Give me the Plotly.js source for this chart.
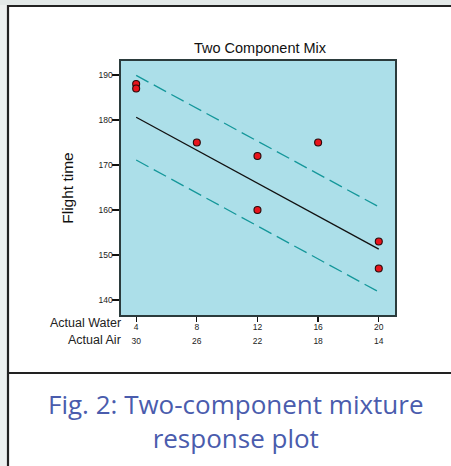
<!DOCTYPE html>
<html>
<head>
<meta charset="utf-8">
<script src="https://cdn.plot.ly/plotly-3.0.1.min.js"></script>
<style>
html,body{margin:0;padding:0;background:#ffffff;}
#chart{width:451px;height:466px;}
</style>
</head>
<body>
<div id="chart"></div>
<script>
// ---- data ----
var waterTicks = [4, 8, 12, 16, 20];
var airTicks = [30, 26, 22, 18, 14];
var yTicks = [140, 150, 160, 170, 180, 190];

var obsWater = [4, 4, 8, 12, 12, 16, 20, 20];
var obsFlight = [188, 187, 175, 172, 160, 175, 153, 147];

var lineWater = [4, 20];
var fitFlight = [180.6, 151.3];
var upperFlight = [189.9, 160.7];
var lowerFlight = [171.1, 141.8];

var chartTitle = "Two Component Mix";
var yTitle = "Flight time";
var rowLabels = ["Actual Water", "Actual Air"];
var caption = "Fig. 2: Two-component mixture<br>response plot";

// ---- layout geometry (pixels) ----
var W = 451, H = 466;
var PL = 121, PR = 395, PT = 61, PB = 315;
function px2x(p){ return (p - PL) / (PR - PL); }
function px2y(p){ return (PB - p) / (PB - PT); }

var teal = '#14979a';
var dark = '#222222';

var traces = [
  {x: lineWater, y: upperFlight, mode: 'lines', line: {color: teal, width: 1.3, dash: '14px,6px'}, hoverinfo: 'skip', showlegend: false},
  {x: lineWater, y: lowerFlight, mode: 'lines', line: {color: teal, width: 1.3, dash: '14px,6px'}, hoverinfo: 'skip', showlegend: false},
  {x: lineWater, y: fitFlight, mode: 'lines', line: {color: '#111111', width: 1.3}, hoverinfo: 'skip', showlegend: false},
  {x: obsWater, y: obsFlight, mode: 'markers', marker: {color: '#e8141c', size: 7, line: {color: '#2a0a0a', width: 1.1}}, showlegend: false},
  {x: waterTicks, y: waterTicks.map(function(){return null;}), xaxis: 'x2', mode: 'markers', hoverinfo: 'skip', showlegend: false}
];

var shapes = [
  // outer grey surround
  {type: 'rect', xref: 'paper', yref: 'paper', x0: px2x(0), x1: px2x(7), y0: px2y(0), y1: px2y(H), fillcolor: '#edf1f0', line: {width: 0}, layer: 'below'},
  {type: 'rect', xref: 'paper', yref: 'paper', x0: px2x(0), x1: px2x(W), y0: px2y(0), y1: px2y(5), fillcolor: '#e3e9e8', line: {width: 0}, layer: 'below'},
  // frame lines
  {type: 'line', xref: 'paper', yref: 'paper', x0: px2x(7), x1: px2x(W + 10), y0: px2y(6), y1: px2y(6), line: {color: dark, width: 2.2}},
  {type: 'line', xref: 'paper', yref: 'paper', x0: px2x(8), x1: px2x(8), y0: px2y(5), y1: px2y(H + 10), line: {color: dark, width: 2.2}},
  {type: 'line', xref: 'paper', yref: 'paper', x0: px2x(7), x1: px2x(W + 10), y0: px2y(373), y1: px2y(373), line: {color: dark, width: 2.2}}
];

var annotations = [
  {text: rowLabels[0], xref: 'paper', yref: 'paper', x: px2x(123), y: px2y(323), xanchor: 'right', yanchor: 'middle', showarrow: false, font: {family: 'Liberation Sans, Arial, sans-serif', size: 12.5, color: dark}},
  {text: rowLabels[1], xref: 'paper', yref: 'paper', x: px2x(123), y: px2y(340), xanchor: 'right', yanchor: 'middle', showarrow: false, font: {family: 'Liberation Sans, Arial, sans-serif', size: 12.5, color: dark}},
  {text: caption, xref: 'paper', yref: 'paper', x: px2x(236), y: px2y(421), xanchor: 'center', yanchor: 'middle', showarrow: false, align: 'center', font: {family: 'Open Sans, Noto Sans, sans-serif', size: 26, color: '#4a5cad'}}
];

var layout = {
  width: W, height: H,
  margin: {l: PL, r: W - PR, t: PT, b: H - PB, pad: 0},
  paper_bgcolor: '#ffffff',
  plot_bgcolor: '#acdfe9',
  title: {text: chartTitle, x: 260 / W, xanchor: 'center', y: 1 - 47.5 / H, yanchor: 'middle', font: {family: 'Liberation Sans, Arial, sans-serif', size: 14.5, color: '#111111'}},
  xaxis: {
    range: [3.0, 21.07], tickvals: waterTicks, ticktext: waterTicks.map(String),
    showgrid: false, zeroline: false, showline: true, mirror: true, linecolor: '#2b3b3c', linewidth: 1.6,
    ticks: 'outside', ticklen: 5, tickwidth: 1.3, tickcolor: '#111111', ticklabelstandoff: -2,
    tickfont: {family: 'Liberation Sans, Arial, sans-serif', size: 8.5, color: dark}
  },
  xaxis2: {
    overlaying: 'x', anchor: 'y', side: 'bottom', range: [3.0, 21.07],
    tickvals: waterTicks, ticktext: airTicks.map(String),
    showgrid: false, zeroline: false, showline: false, ticks: '', ticklabelstandoff: 19,
    tickfont: {family: 'Liberation Sans, Arial, sans-serif', size: 8.5, color: dark}
  },
  yaxis: {
    range: [136.67, 193.1], tickvals: yTicks, ticktext: yTicks.map(String),
    showgrid: false, zeroline: false, showline: true, mirror: true, linecolor: '#2b3b3c', linewidth: 1.6,
    ticks: 'outside', ticklen: 7, tickwidth: 1.3, tickcolor: '#111111', ticklabelstandoff: -2,
    tickfont: {family: 'Liberation Sans, Arial, sans-serif', size: 8.5, color: dark},
    title: {text: yTitle, standoff: 21, font: {family: 'Liberation Sans, Arial, sans-serif', size: 15.5, color: '#111111'}}
  },
  shapes: shapes,
  annotations: annotations
};

Plotly.newPlot('chart', traces, layout, {staticPlot: true, displayModeBar: false});
</script>
</body>
</html>
